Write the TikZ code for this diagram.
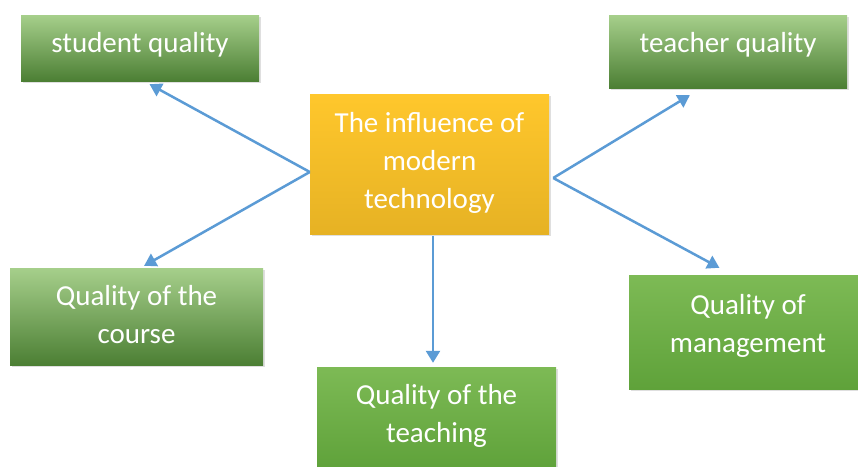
\documentclass[tikz,border=0pt]{standalone}
\usepackage{fontspec}
\setmainfont{Carlito}
\usetikzlibrary{arrows.meta,shadows,calc}
\definecolor{gtop}{HTML}{A6CF8B}
\definecolor{gmid}{HTML}{6DB33F}
\definecolor{gbot}{HTML}{4C7F34}
\definecolor{g2top}{HTML}{7DBA55}
\definecolor{g2bot}{HTML}{5FA23A}
\definecolor{ytop}{HTML}{FFC72C}
\definecolor{ymid}{HTML}{FFC211}
\definecolor{ybot}{HTML}{E6B224}
\definecolor{arr}{HTML}{5B9BD5}
\tikzset{
  box/.style={inner sep=0pt,
    drop shadow={opacity=0.25, shadow xshift=2pt, shadow yshift=-2pt}},
  gbox/.style={box, top color=gtop, middle color=gmid, bottom color=gbot},
  g2box/.style={box, top color=g2top, bottom color=g2bot},
  ybox/.style={box, top color=ytop, middle color=ymid, bottom color=ybot},
  lbl/.style={inner sep=0pt, align=center, text=white, font=\fontsize{29}{38}\selectfont},
  conn/.style={draw=arr, line width=2.5pt, -{Triangle[width=14pt,length=12pt]}}
}
\begin{document}
\begin{tikzpicture}[x=1pt,y=-1pt]
\useasboundingbox (0,0) rectangle (858,466);
\node[gbox, minimum width=238pt, minimum height=66pt] (s) at (140,48) {};
\node[lbl] (sl) at ($(s.center)+(0,-3)$) {student quality};
\node[gbox, minimum width=238pt, minimum height=73pt] (t) at (728,51.5) {};
\node[lbl] (tl) at ($(t.center)+(0,-7)$) {teacher quality};
\node[ybox, minimum width=239pt, minimum height=140pt] (c) at (429.5,164) {};
\node[lbl] (cl0) at ($(c.center)+(0,-1.5)$) {The influence of\\modern\\technology};
\node[gbox, minimum width=253pt, minimum height=97pt] (q) at (136.5,316.5) {};
\node[lbl] (ql) at ($(q.center)+(0,-2)$) {Quality of the\\course};
\node[g2box, minimum width=239pt, minimum height=102pt] (tc) at (436.5,418) {};
\node[lbl] (tcl) at ($(tc.center)+(0,-2)$) {Quality of the\\teaching};
\node[g2box, minimum width=238pt, minimum height=114pt] (m) at (748,332) {};
\node[lbl] (ml) at ($(m.center)+(0,-6)$) {Quality of\\management};
\coordinate (cl) at ($(c.west)+(0,8)$);
\coordinate (cr) at ($(c.east)+(4,14)$);
\coordinate (cb) at ($(c.south)+(3.5,2)$);
\draw[conn] (cl) -- ($(s.south west)!0.54!(s.south east)+(0,3)$);
\draw[conn] (cl) -- ($(q.north west)!0.53!(q.north east)+(0,-2)$);
\draw[conn] (cr) -- ($(t.south west)!0.34!(t.south east)+(0,7)$);
\draw[conn] (cr) -- ($(m.north west)!0.38!(m.north east)+(0,-7)$);
\draw[conn] (cb) -- ($(cb |- tc.north)+(0,-4)$);
\end{tikzpicture}
\end{document}
